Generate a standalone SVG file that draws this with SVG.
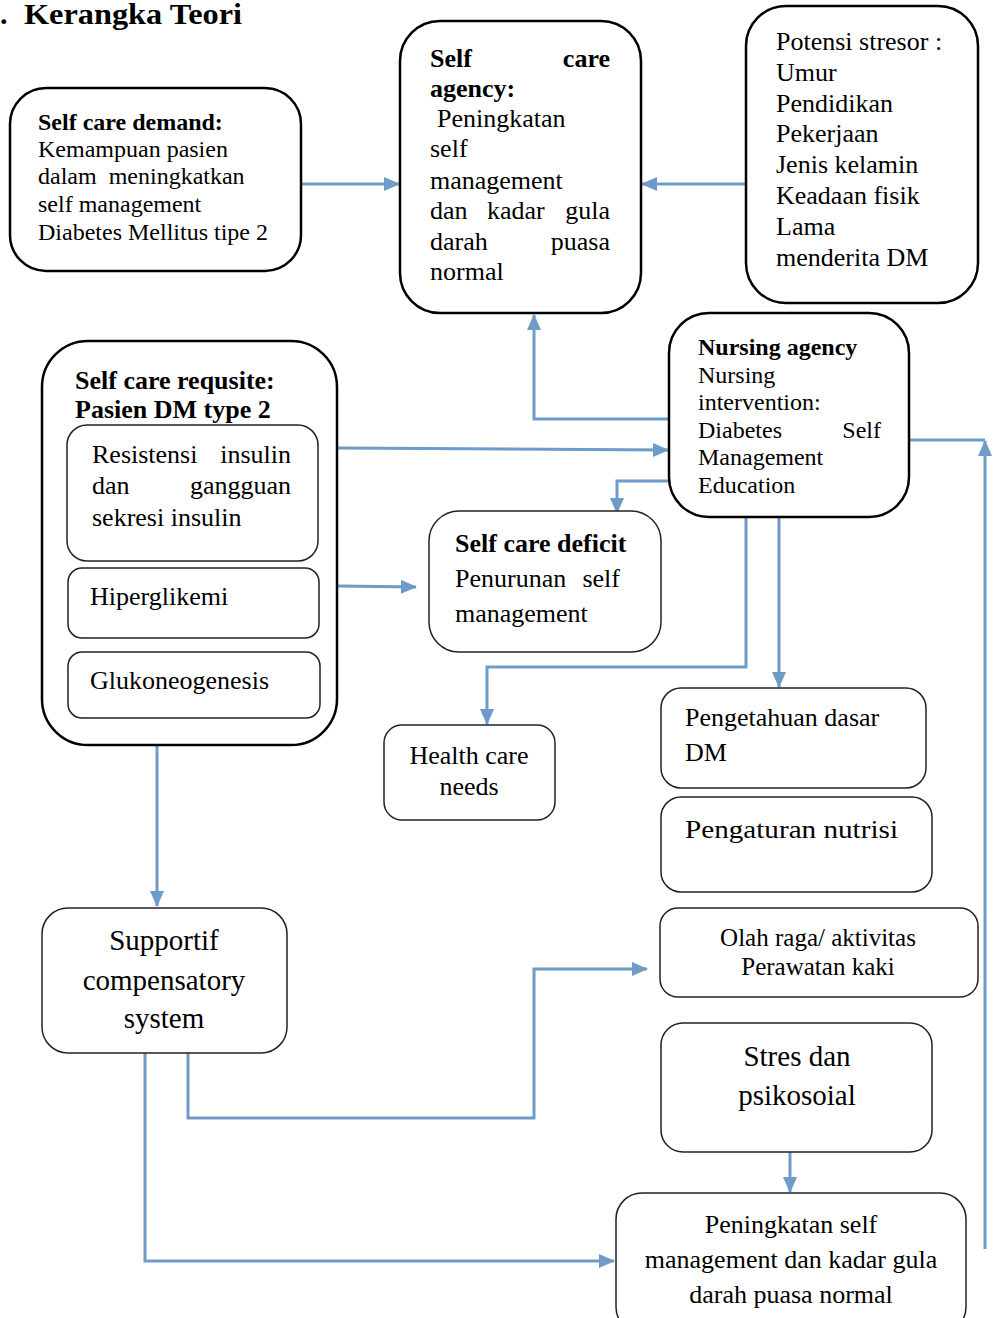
<svg xmlns="http://www.w3.org/2000/svg" width="999" height="1318" viewBox="0 0 999 1318">
<defs>
<marker id="arr" markerUnits="userSpaceOnUse" markerWidth="16" markerHeight="16" viewBox="0 0 16 16" refX="15" refY="8" orient="auto">
<path d="M0,1 L16,8 L0,15 Z" fill="#6e9bc8"/>
</marker>
<style>
text{font-family:"Liberation Serif","Times New Roman",serif;fill:#000}
.b{font-weight:bold}
.f24{font-size:24px}
.f26{font-size:26px}
.f29{font-size:29px}
.thick{fill:#fff;stroke:#000;stroke-width:2.5}
.thin{fill:#fff;stroke:#222;stroke-width:1.5}
.conn{fill:none;stroke:#6e9bc8;stroke-width:3}
.c{text-anchor:middle}
.e{text-anchor:end}
</style>
</defs>
<rect width="999" height="1318" fill="#fff"/>
<text class="b" x="0" y="24" style="font-size:30px">.</text>
<text class="b" x="24" y="24" style="font-size:30px" textLength="218" lengthAdjust="spacingAndGlyphs">Kerangka Teori</text>

<g id="connectors">
<path class="conn" d="M301,184 H399" marker-end="url(#arr)"/>
<path class="conn" d="M746,184 H642" marker-end="url(#arr)"/>
<path class="conn" d="M669,419 H534 V315" marker-end="url(#arr)"/>
<path class="conn" d="M338,448 L668,450" marker-end="url(#arr)"/>
<path class="conn" d="M669,481 H617 V513" marker-end="url(#arr)"/>
<path class="conn" d="M338,586 L416,587" marker-end="url(#arr)"/>
<path class="conn" d="M746,517 V667 H487 V724" marker-end="url(#arr)"/>
<path class="conn" d="M779,517 V687" marker-end="url(#arr)"/>
<path class="conn" d="M909,440 H985"/>
<path class="conn" d="M985,1249 V441" marker-end="url(#arr)"/>
<path class="conn" d="M157,745 V906" marker-end="url(#arr)"/>
<path class="conn" d="M188,1053 V1118 H534 V969 H647" marker-end="url(#arr)"/>
<path class="conn" d="M145,1053 V1261 H614" marker-end="url(#arr)"/>
<path class="conn" d="M790,1138 V1192" marker-end="url(#arr)"/>
</g>

<g id="self-care-demand">
<rect class="thick" x="10" y="88" width="291" height="183" rx="36"/>
<text class="f24 b" x="38" y="130">Self care demand:</text>
<text class="f24" x="38" y="157">Kemampuan pasien</text>
<text class="f24" x="38" y="184" xml:space="preserve">dalam  meningkatkan</text>
<text class="f24" x="38" y="212">self management</text>
<text class="f24" x="38" y="240">Diabetes Mellitus tipe 2</text>
</g>

<g id="self-care-agency">
<rect class="thick" x="400" y="21" width="241" height="292" rx="40"/>
<text class="f26 b" x="430" y="67">Self</text>
<text class="f26 b e" x="610" y="67">care</text>
<text class="f26 b" x="430" y="97">agency:</text>
<text class="f26" x="437" y="127">Peningkatan</text>
<text class="f26" x="430" y="157">self</text>
<text class="f26" x="430" y="189">management</text>
<text class="f26" x="430" y="219">dan</text>
<text class="f26" x="487" y="219">kadar</text>
<text class="f26 e" x="610" y="219">gula</text>
<text class="f26" x="430" y="250">darah</text>
<text class="f26 e" x="610" y="250">puasa</text>
<text class="f26" x="430" y="280">normal</text>
</g>

<g id="potensi-stresor">
<rect class="thick" x="746" y="6" width="232" height="297" rx="40"/>
<text class="f26" x="776" y="50">Potensi stresor :</text>
<text class="f26" x="776" y="81">Umur</text>
<text class="f26" x="776" y="112">Pendidikan</text>
<text class="f26" x="776" y="142">Pekerjaan</text>
<text class="f26" x="776" y="173">Jenis kelamin</text>
<text class="f26" x="776" y="204">Keadaan fisik</text>
<text class="f26" x="776" y="235">Lama</text>
<text class="f26" x="776" y="266">menderita DM</text>
</g>

<g id="self-care-requisite">
<rect class="thick" x="42" y="341" width="295" height="404" rx="46"/>
<text class="f26 b" x="75" y="389">Self care requsite:</text>
<text class="f26 b" x="75" y="418">Pasien DM type 2</text>
</g>
<g id="resistensi">
<rect class="thin" x="67" y="425" width="251" height="136" rx="20"/>
<text class="f26" x="92" y="463">Resistensi</text>
<text class="f26 e" x="291" y="463">insulin</text>
<text class="f26" x="92" y="494">dan</text>
<text class="f26 e" x="291" y="494">gangguan</text>
<text class="f26" x="92" y="526">sekresi insulin</text>
</g>
<g id="hiperglikemi">
<rect class="thin" x="68" y="568" width="251" height="70" rx="14"/>
<text class="f26" x="90" y="605">Hiperglikemi</text>
</g>
<g id="glukoneogenesis">
<rect class="thin" x="68" y="652" width="252" height="66" rx="14"/>
<text class="f26" x="90" y="689">Glukoneogenesis</text>
</g>

<g id="nursing-agency">
<rect class="thick" x="669" y="313" width="240" height="204" rx="40"/>
<text class="f24 b" x="698" y="355">Nursing agency</text>
<text class="f24" x="698" y="383">Nursing</text>
<text class="f24" x="698" y="410">intervention:</text>
<text class="f24" x="698" y="438">Diabetes</text>
<text class="f24 e" x="881" y="438">Self</text>
<text class="f24" x="698" y="465">Management</text>
<text class="f24" x="698" y="493">Education</text>
</g>

<g id="self-care-deficit">
<rect class="thin" x="429" y="511" width="232" height="141" rx="30"/>
<text class="f26 b" x="455" y="552">Self care deficit</text>
<text class="f26" x="455" y="587">Penurunan</text>
<text class="f26 e" x="620" y="587">self</text>
<text class="f26" x="455" y="622">management</text>
</g>

<g id="health-care-needs">
<rect class="thin" x="384" y="725" width="171" height="95" rx="18"/>
<text class="f26 c" x="469" y="764">Health care</text>
<text class="f26 c" x="469" y="795">needs</text>
</g>

<g id="pengetahuan">
<rect class="thin" x="661" y="688" width="265" height="100" rx="20"/>
<text class="f26" x="685" y="726">Pengetahuan dasar</text>
<text class="f26" x="685" y="761">DM</text>
</g>

<g id="nutrisi">
<rect class="thin" x="661" y="797" width="271" height="95" rx="20"/>
<text class="f26" x="685" y="838" textLength="213" lengthAdjust="spacingAndGlyphs">Pengaturan nutrisi</text>
</g>

<g id="olah-raga">
<rect class="thin" x="660" y="908" width="318" height="89" rx="18"/>
<text class="f26 c" x="818" y="946" style="font-size:25px">Olah raga/ aktivitas</text>
<text class="f26 c" x="818" y="975" style="font-size:25px">Perawatan kaki</text>
</g>

<g id="stres">
<rect class="thin" x="661" y="1023" width="271" height="129" rx="22"/>
<text class="f29 c" x="797" y="1066">Stres dan</text>
<text class="f29 c" x="797" y="1105">psikosoial</text>
</g>

<g id="peningkatan">
<rect class="thin" x="616" y="1193" width="350" height="140" rx="26"/>
<text class="f26 c" x="791" y="1233">Peningkatan self</text>
<text class="f26 c" x="791" y="1268">management dan kadar gula</text>
<text class="f26 c" x="791" y="1303">darah puasa normal</text>
</g>

<g id="supportif">
<rect class="thin" x="42" y="908" width="245" height="145" rx="26"/>
<text class="f29 c" x="164" y="950">Supportif</text>
<text class="f29 c" x="164" y="990">compensatory</text>
<text class="f29 c" x="164" y="1028">system</text>
</g>
</svg>
